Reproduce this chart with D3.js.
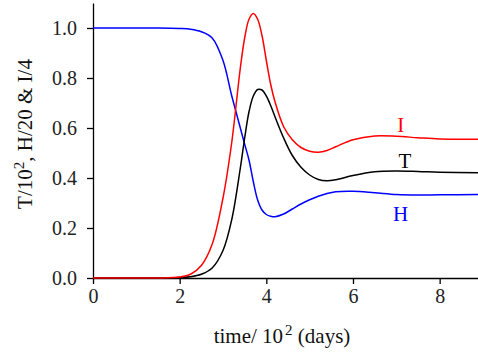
<!DOCTYPE html>
<html>
<head>
<meta charset="utf-8">
<script src="https://cdn.jsdelivr.net/npm/d3@7"></script>
<style>
  body { margin: 0; background: #fff; }
  text { font-family: "Liberation Serif", "Times New Roman", serif; }
</style>
</head>
<body>
<script>
// time in units of 10^2 days
const time = [0, 0.5, 1, 1.5, 2, 2.25, 2.5, 2.75, 3, 3.2, 3.4, 3.5, 3.6, 3.7, 3.8, 3.9, 4.0, 4.1, 4.2, 4.4, 4.6, 4.8, 5.0, 5.2, 5.4, 5.6, 6.0, 6.5, 7.0, 7.5, 8.0, 8.9]
// H/20
const hVals = [1, 1, 1, 1, 0.998, 0.995, 0.985, 0.96, 0.87, 0.73, 0.60, 0.535, 0.472, 0.385, 0.312, 0.272, 0.254, 0.247, 0.245, 0.256, 0.276, 0.296, 0.313, 0.327, 0.338, 0.345, 0.347, 0.341, 0.334, 0.332, 0.333, 0.334]
// I/4
const iVals = [0, 0, 0, 0, 0.004, 0.015, 0.05, 0.135, 0.32, 0.54, 0.84, 0.96, 1.035, 1.058, 1.035, 0.97, 0.87, 0.775, 0.705, 0.605, 0.553, 0.522, 0.507, 0.503, 0.51, 0.525, 0.553, 0.568, 0.567, 0.561, 0.556, 0.555]
// T/10^2
const tVals = [0, 0, 0, 0, 0.002, 0.005, 0.015, 0.04, 0.11, 0.232, 0.44, 0.56, 0.665, 0.728, 0.754, 0.752, 0.728, 0.69, 0.645, 0.56, 0.49, 0.443, 0.412, 0.394, 0.389, 0.393, 0.41, 0.425, 0.428, 0.426, 0.423, 0.421]

const xTicks = [0, 2, 4, 6, 8]
const yTicks = [0, 0.2, 0.4, 0.6, 0.8, 1.0]

const w = 478
const h = 354

const xScale = d3.scaleLinear()
    .domain([0, 8.885])
    .range([93, 478])

const yScale = d3.scaleLinear()
    .domain([0, 1.1])
    .range([278, 3])

const svg = d3.select('body')
    .append('svg')
    .attr('width', w)
    .attr('height', h)

// axes
const xAxis = d3.axisBottom(xScale).tickValues(xTicks).tickSize(6).tickSizeOuter(0).tickPadding(5)
const yAxis = d3.axisLeft(yScale).tickValues(yTicks).tickSize(6).tickSizeOuter(0).tickPadding(10).tickFormat(d3.format('.1f'))

svg.append('g')
    .attr('transform', `translate(0,${yScale(0)})`)
    .call(xAxis)
svg.append('g')
    .attr('transform', `translate(${xScale(0)},0)`)
    .call(yAxis)

svg.selectAll('g')
    .attr('font-family', '"Liberation Serif", serif')
    .style('font-family', '"Liberation Serif", serif')
svg.selectAll('.domain, .tick line')
    .attr('stroke', '#000')
    .attr('stroke-width', 1.3)
svg.selectAll('.tick text')
    .attr('font-size', 20)
    .attr('fill', '#222')

// curves
const line = vals => d3.line()
    .x((d, i) => xScale(time[i]))
    .y(d => yScale(d))
    .curve(d3.curveCatmullRom.alpha(0.5))(vals)

const series = [
    { vals: hVals, color: '#0000ff', label: 'H', t: 7.1, v: 0.23 },
    { vals: tVals, color: '#000000', label: 'T', t: 7.2, v: 0.44 },
    { vals: iVals, color: '#ff0000', label: 'I', t: 7.1, v: 0.585 }
]

series.forEach(s => {
    svg.append('path')
        .attr('d', line(s.vals))
        .attr('fill', 'none')
        .attr('stroke', s.color)
        .attr('stroke-width', 1.5)
    svg.append('text')
        .attr('x', xScale(s.t))
        .attr('y', yScale(s.v))
        .attr('text-anchor', 'middle')
        .attr('font-size', 21)
        .attr('fill', s.color)
        .text(s.label)
})

// axis titles
const xt = svg.append('text')
    .attr('x', 282)
    .attr('y', 343)
    .attr('text-anchor', 'middle')
    .attr('font-size', 21)
    .attr('fill', '#111')
xt.append('tspan').text('time/ 10')
xt.append('tspan').attr('font-size', 15).attr('dy', -8).attr('dx', 2).text('2')
xt.append('tspan').attr('dy', 8).text(' (days)')

const yt = svg.append('text')
    .attr('transform', 'translate(32,134) rotate(-90)')
    .attr('text-anchor', 'middle')
    .attr('font-size', 21)
    .attr('fill', '#111')
yt.append('tspan').text('T/10')
yt.append('tspan').attr('font-size', 15).attr('dy', -8).text('2')
yt.append('tspan').attr('dy', 8).text(', H/20 & I/4')
</script>
</body>
</html>
